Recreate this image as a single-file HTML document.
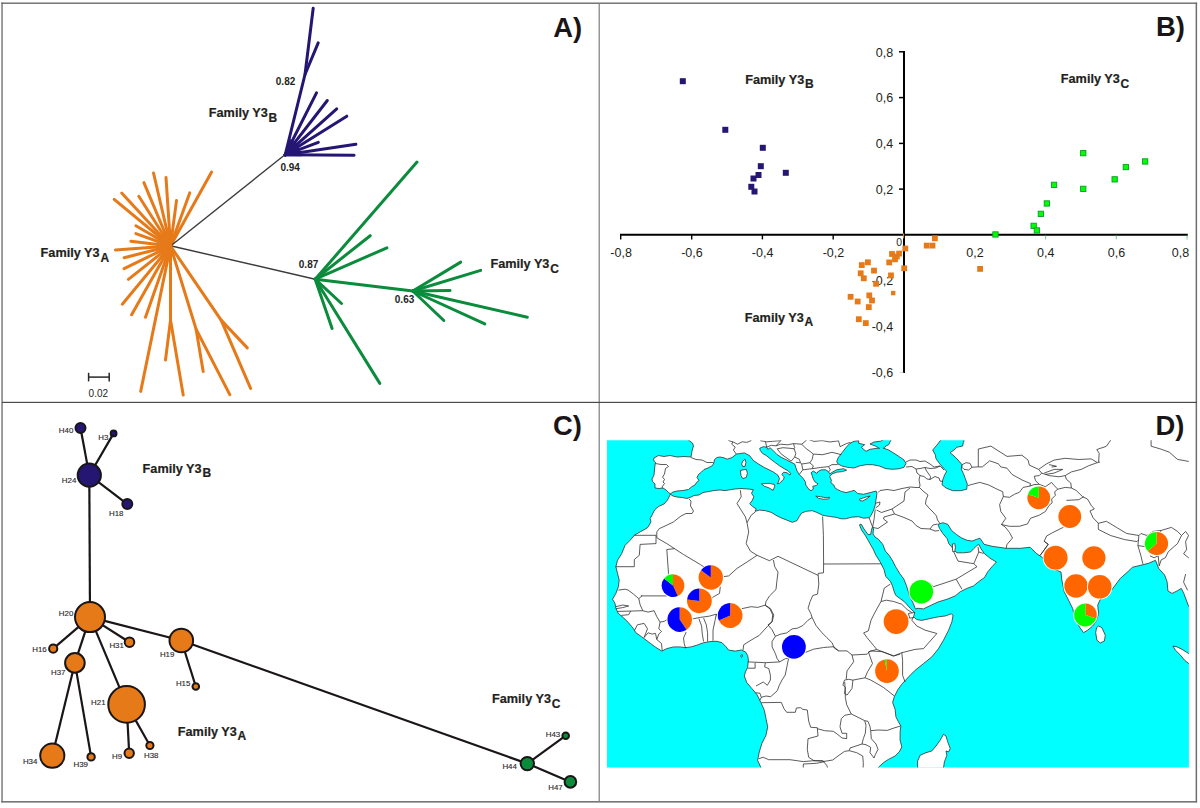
<!DOCTYPE html>
<html><head><meta charset="utf-8"><title>Figure</title>
<style>
html,body{margin:0;padding:0;background:#fff;}
svg{display:block;}
text{font-family:"Liberation Sans",sans-serif;}
</style></head>
<body>
<svg width="1200" height="808" viewBox="0 0 1200 808">
<rect x="0" y="0" width="1200" height="808" fill="#fff"/>
<g shape-rendering="auto">
<rect x="1.2" y="2.6" width="1.7" height="799.8" fill="#8c8c8c"/>
<rect x="1195.6" y="2.6" width="1.5" height="799.8" fill="#6e6e6e"/>
<rect x="1.2" y="2.5" width="1195.9" height="1.4" fill="#6a6a6a"/>
<rect x="1.2" y="801" width="1195.9" height="1.6" fill="#767676"/>
<rect x="598.6" y="3" width="1.2" height="799" fill="#7d7d7d"/>
<rect x="2" y="401.8" width="1195" height="1.2" fill="#4a4a4a"/>
</g>
<text x="553.2" y="36.5" font-size="27.4" font-weight="bold" fill="#1a1516">A)</text>
<text x="1156.0" y="36.0" font-size="27.4" font-weight="bold" fill="#1a1516">B)</text>
<text x="553.1" y="434.5" font-size="27.4" font-weight="bold" fill="#1a1516">C)</text>
<text x="1155.6" y="434.7" font-size="27.4" font-weight="bold" fill="#1a1516">D)</text>
<g stroke="#E67A19" stroke-width="3" stroke-linecap="round" fill="none">
<line x1="170.5" y1="246.0" x2="211.6" y2="172.0"/>
<line x1="170.5" y1="246.0" x2="189.7" y2="192.9"/>
<line x1="170.5" y1="246.0" x2="176.5" y2="200.6"/>
<line x1="170.5" y1="246.0" x2="166.0" y2="177.5"/>
<line x1="170.5" y1="246.0" x2="153.5" y2="173.0"/>
<line x1="170.5" y1="246.0" x2="143.9" y2="182.6"/>
<line x1="170.5" y1="246.0" x2="138.8" y2="196.3"/>
<line x1="170.5" y1="246.0" x2="121.7" y2="193.1"/>
<line x1="170.5" y1="246.0" x2="114.2" y2="199.4"/>
<line x1="170.5" y1="246.0" x2="135.9" y2="225.7"/>
<line x1="170.5" y1="246.0" x2="135.9" y2="233.6"/>
<line x1="170.5" y1="246.0" x2="130.9" y2="241.2"/>
<line x1="170.5" y1="246.0" x2="115.4" y2="249.9"/>
<line x1="170.5" y1="246.0" x2="124.1" y2="257.7"/>
<line x1="170.5" y1="246.0" x2="124.1" y2="268.6"/>
<line x1="170.5" y1="246.0" x2="128.4" y2="279.4"/>
<line x1="170.5" y1="246.0" x2="122.3" y2="304.2"/>
<line x1="170.5" y1="246.0" x2="131.6" y2="314.8"/>
<line x1="170.5" y1="246.0" x2="145.5" y2="317.2"/>
<line x1="170.5" y1="246.0" x2="140.7" y2="391.4"/>
<polyline points="170.5,246.0 170.5,320.1 183.2,395.0"/>
<line x1="170.5" y1="320.1" x2="165.5" y2="360.0"/>
<polyline points="170.5,246.0 196.1,329.3 229.8,394.6"/>
<line x1="196.1" y1="329.3" x2="203.2" y2="371.5"/>
<polyline points="170.5,246.0 221.1,320.1 250.6,388.4"/>
<line x1="221.1" y1="320.1" x2="247.3" y2="347.9"/>
</g>
<g stroke="#3c3a3b" stroke-width="1.4" fill="none">
<line x1="170.9" y1="245.7" x2="284.3" y2="155.3"/>
<line x1="171.5" y1="246.0" x2="315.2" y2="279.2"/>
</g>
<circle cx="170.5" cy="246.0" r="2.2" fill="#E67A19"/>
<g stroke="#261673" stroke-width="3" stroke-linecap="round" stroke-linejoin="round" fill="none">
<polyline points="285.2,154.8 305.0,74.5 313.2,8.2"/>
<line x1="305.0" y1="74.5" x2="318.2" y2="42.8"/>
<line x1="285.2" y1="154.8" x2="316.5" y2="92.9"/>
<line x1="285.2" y1="154.8" x2="327.3" y2="100.5"/>
<line x1="285.2" y1="154.8" x2="336.7" y2="108.8"/>
<line x1="285.2" y1="154.8" x2="346.8" y2="116.2"/>
<line x1="285.2" y1="154.8" x2="318.3" y2="142.3"/>
<line x1="285.2" y1="154.8" x2="355.9" y2="144.3"/>
<line x1="285.2" y1="154.8" x2="354.1" y2="155.2"/>
</g>
<polygon points="284.0,156.3 290.0,139.0 298.0,144.0 302.0,156.3" fill="#261673"/>
<g stroke="#0A8C3C" stroke-width="3" stroke-linecap="round" fill="none">
<line x1="315.2" y1="279.2" x2="417.0" y2="162.1"/>
<line x1="315.2" y1="279.2" x2="370.2" y2="235.7"/>
<line x1="315.2" y1="279.2" x2="386.9" y2="247.8"/>
<line x1="315.2" y1="279.2" x2="341.5" y2="303.5"/>
<line x1="315.2" y1="279.2" x2="332.1" y2="328.5"/>
<line x1="315.2" y1="279.2" x2="379.8" y2="383.4"/>
<line x1="315.2" y1="279.2" x2="412.8" y2="291.0"/>
<line x1="412.8" y1="291.0" x2="460.7" y2="262.1"/>
<line x1="412.8" y1="291.0" x2="480.7" y2="270.4"/>
<line x1="412.8" y1="291.0" x2="450.0" y2="290.6"/>
<line x1="412.8" y1="291.0" x2="527.3" y2="317.2"/>
<line x1="412.8" y1="291.0" x2="484.8" y2="323.9"/>
<line x1="412.8" y1="291.0" x2="443.8" y2="320.5"/>
</g>
<text x="275.8" y="84.6" font-size="10" font-weight="bold" fill="#231F20">0.82</text>
<text x="280.4" y="171.2" font-size="10" font-weight="bold" fill="#231F20">0.94</text>
<text x="298.8" y="268.4" font-size="10" font-weight="bold" fill="#231F20">0.87</text>
<text x="394.8" y="302.6" font-size="10" font-weight="bold" fill="#231F20">0.63</text>
<text x="208.8" y="117.2" font-size="12.7" font-weight="bold" fill="#231F20" stroke="#231F20" stroke-width="0.2">Family Y3<tspan dx="0.8" dy="4.5" font-size="12.0">B</tspan></text>
<text x="40.6" y="257.2" font-size="12.7" font-weight="bold" fill="#231F20" stroke="#231F20" stroke-width="0.2">Family Y3<tspan dx="0.8" dy="4.5" font-size="12.0">A</tspan></text>
<text x="490.4" y="268.4" font-size="12.7" font-weight="bold" fill="#231F20" stroke="#231F20" stroke-width="0.2">Family Y3<tspan dx="0.8" dy="4.5" font-size="12.0">C</tspan></text>
<g stroke="#2a2627" stroke-width="1.5" fill="none">
<line x1="88.6" y1="377.1" x2="109.2" y2="377.1"/>
<line x1="88.6" y1="372.8" x2="88.6" y2="381.4"/>
<line x1="109.2" y1="372.8" x2="109.2" y2="381.4"/>
</g>
<text x="88.6" y="396.6" font-size="10" fill="#231F20">0.02</text>
<g font-size="12.5" fill="#231F20">
<text x="621.1" y="257.3" text-anchor="middle">-0,8</text>
<text x="691.9" y="257.3" text-anchor="middle">-0,6</text>
<text x="762.6" y="257.3" text-anchor="middle">-0,4</text>
<text x="833.4" y="257.3" text-anchor="middle">-0,2</text>
<text x="975.0" y="257.3" text-anchor="middle">0,2</text>
<text x="1045.8" y="257.3" text-anchor="middle">0,4</text>
<text x="1116.5" y="257.3" text-anchor="middle">0,6</text>
<text x="1189.2" y="257.3" text-anchor="end">0,8</text>
<text x="902.0" y="245.8" text-anchor="end" font-size="10.4">0</text>
<text x="893.2" y="56.6" text-anchor="end">0,8</text>
<text x="893.2" y="102.3" text-anchor="end">0,6</text>
<text x="893.2" y="148.1" text-anchor="end">0,4</text>
<text x="893.2" y="193.8" text-anchor="end">0,2</text>
<text x="893.2" y="285.2" text-anchor="end">-0,2</text>
<text x="893.2" y="330.9" text-anchor="end">-0,4</text>
<text x="893.2" y="376.7" text-anchor="end">-0,6</text>
</g>
<g stroke="#000" fill="none">
<line x1="620.0" y1="234.8" x2="1187.8" y2="234.8" stroke-width="2"/>
<line x1="904.0" y1="51.0" x2="904.0" y2="372.9" stroke-width="2"/>
<line x1="620.7" y1="234.8" x2="620.7" y2="239.4" stroke-width="1.4"/>
<line x1="691.7" y1="234.8" x2="691.7" y2="239.4" stroke-width="1.4"/>
<line x1="762.4" y1="234.8" x2="762.4" y2="239.4" stroke-width="1.4"/>
<line x1="833.2" y1="234.8" x2="833.2" y2="239.4" stroke-width="1.4"/>
<line x1="1045.6" y1="234.8" x2="1045.6" y2="239.4" stroke-width="0.6" stroke="#19a84a"/>
<line x1="1116.3" y1="234.8" x2="1116.3" y2="239.4" stroke-width="0.6" stroke="#19a84a"/>
<line x1="1187.0" y1="234.8" x2="1187.0" y2="239.4" stroke-width="0.6" stroke="#19a84a"/>
<line x1="899.0" y1="51.8" x2="904.0" y2="51.8" stroke-width="1.5"/>
<line x1="899.0" y1="97.6" x2="904.0" y2="97.6" stroke-width="1.5"/>
<line x1="899.0" y1="143.4" x2="904.0" y2="143.4" stroke-width="1.5"/>
<line x1="899.0" y1="189.1" x2="904.0" y2="189.1" stroke-width="1.5"/>
<line x1="900" y1="372.4" x2="904" y2="372.4" stroke-width="0.5" stroke="#999"/>
</g>
<rect x="679.8" y="78.2" width="6.0" height="6.0" fill="#261673"/>
<rect x="722.3" y="126.8" width="6.0" height="6.0" fill="#261673"/>
<rect x="759.8" y="144.8" width="6.0" height="6.0" fill="#261673"/>
<rect x="757.8" y="163.2" width="6.0" height="6.0" fill="#261673"/>
<rect x="755.5" y="172.0" width="6.0" height="6.0" fill="#261673"/>
<rect x="750.5" y="175.5" width="6.0" height="6.0" fill="#261673"/>
<rect x="748.3" y="183.8" width="6.0" height="6.0" fill="#261673"/>
<rect x="751.5" y="188.5" width="6.0" height="6.0" fill="#261673"/>
<rect x="782.8" y="169.8" width="6.0" height="6.0" fill="#261673"/>
<rect x="932.0" y="235.4" width="5.8" height="5.8" fill="#E67A19"/>
<rect x="923.8" y="242.7" width="5.8" height="5.8" fill="#E67A19"/>
<rect x="929.6" y="242.7" width="5.8" height="5.8" fill="#E67A19"/>
<rect x="902.4" y="245.6" width="5.8" height="5.8" fill="#E67A19"/>
<rect x="896.2" y="250.7" width="5.8" height="5.8" fill="#E67A19"/>
<rect x="889.1" y="251.1" width="5.8" height="5.8" fill="#E67A19"/>
<rect x="893.9" y="253.6" width="5.8" height="5.8" fill="#E67A19"/>
<rect x="892.1" y="256.4" width="5.8" height="5.8" fill="#E67A19"/>
<rect x="886.3" y="259.5" width="5.8" height="5.8" fill="#E67A19"/>
<rect x="865.0" y="259.4" width="5.8" height="5.8" fill="#E67A19"/>
<rect x="858.9" y="262.2" width="5.8" height="5.8" fill="#E67A19"/>
<rect x="901.3" y="265.4" width="5.8" height="5.8" fill="#E67A19"/>
<rect x="871.1" y="267.7" width="5.8" height="5.8" fill="#E67A19"/>
<rect x="857.8" y="270.4" width="5.8" height="5.8" fill="#E67A19"/>
<rect x="888.1" y="272.5" width="5.8" height="5.8" fill="#E67A19"/>
<rect x="860.9" y="275.4" width="5.8" height="5.8" fill="#E67A19"/>
<rect x="873.2" y="280.9" width="5.8" height="5.8" fill="#E67A19"/>
<rect x="847.7" y="293.9" width="5.8" height="5.8" fill="#E67A19"/>
<rect x="866.4" y="292.5" width="5.8" height="5.8" fill="#E67A19"/>
<rect x="854.8" y="298.6" width="5.8" height="5.8" fill="#E67A19"/>
<rect x="869.1" y="297.6" width="5.8" height="5.8" fill="#E67A19"/>
<rect x="865.9" y="304.2" width="5.8" height="5.8" fill="#E67A19"/>
<rect x="855.9" y="316.3" width="5.8" height="5.8" fill="#E67A19"/>
<rect x="862.9" y="320.2" width="5.8" height="5.8" fill="#E67A19"/>
<rect x="977.2" y="266.0" width="5.8" height="5.8" fill="#E67A19"/>
<rect x="891.0" y="290.9" width="4.4" height="4.4" fill="#E67A19"/>
<rect x="903.0" y="233.4" width="1.1" height="5.0" fill="#E67A19"/>
<rect x="1080.6" y="150.5" width="5.3" height="5.3" fill="#00FF00" stroke="#0a9a2a" stroke-width="0.9"/>
<rect x="1142.5" y="158.8" width="5.3" height="5.3" fill="#00FF00" stroke="#0a9a2a" stroke-width="0.9"/>
<rect x="1123.2" y="164.4" width="5.3" height="5.3" fill="#00FF00" stroke="#0a9a2a" stroke-width="0.9"/>
<rect x="1112.0" y="176.7" width="5.3" height="5.3" fill="#00FF00" stroke="#0a9a2a" stroke-width="0.9"/>
<rect x="1080.6" y="186.2" width="5.3" height="5.3" fill="#00FF00" stroke="#0a9a2a" stroke-width="0.9"/>
<rect x="1051.4" y="182.2" width="5.3" height="5.3" fill="#00FF00" stroke="#0a9a2a" stroke-width="0.9"/>
<rect x="1044.2" y="200.8" width="5.3" height="5.3" fill="#00FF00" stroke="#0a9a2a" stroke-width="0.9"/>
<rect x="1038.2" y="211.2" width="5.3" height="5.3" fill="#00FF00" stroke="#0a9a2a" stroke-width="0.9"/>
<rect x="1031.0" y="223.2" width="5.3" height="5.3" fill="#00FF00" stroke="#0a9a2a" stroke-width="0.9"/>
<rect x="1034.2" y="227.8" width="5.3" height="5.3" fill="#00FF00" stroke="#0a9a2a" stroke-width="0.9"/>
<rect x="992.8" y="231.8" width="5.3" height="5.3" fill="#00FF00" stroke="#0a9a2a" stroke-width="0.9"/>
<text x="745.2" y="83.8" font-size="12.7" font-weight="bold" fill="#231F20" stroke="#231F20" stroke-width="0.2">Family Y3<tspan dx="0.8" dy="4.5" font-size="12.0">B</tspan></text>
<text x="1060.8" y="83.0" font-size="12.7" font-weight="bold" fill="#231F20" stroke="#231F20" stroke-width="0.2">Family Y3<tspan dx="0.8" dy="4.5" font-size="12.0">C</tspan></text>
<text x="744.8" y="321.6" font-size="12.7" font-weight="bold" fill="#231F20" stroke="#231F20" stroke-width="0.2">Family Y3<tspan dx="0.8" dy="4.5" font-size="12.0">A</tspan></text>
<g stroke="#1a1516" stroke-width="2.2" fill="none">
<line x1="89.3" y1="475.2" x2="80.5" y2="427.9"/>
<line x1="89.3" y1="475.2" x2="113.6" y2="433.4"/>
<line x1="89.3" y1="475.2" x2="127.3" y2="504.1"/>
<line x1="89.3" y1="475.2" x2="90.0" y2="617.1"/>
<line x1="90.0" y1="617.1" x2="53.2" y2="648.7"/>
<line x1="90.0" y1="617.1" x2="74.9" y2="662.9"/>
<line x1="90.0" y1="617.1" x2="129.5" y2="642.2"/>
<line x1="90.0" y1="617.1" x2="126.6" y2="704.4"/>
<line x1="90.0" y1="617.1" x2="181.3" y2="640.5"/>
<line x1="181.3" y1="640.5" x2="195.8" y2="686.5"/>
<line x1="181.3" y1="640.5" x2="527.3" y2="763.6"/>
<line x1="74.9" y1="662.9" x2="52.3" y2="755.7"/>
<line x1="74.9" y1="662.9" x2="91.1" y2="756.9"/>
<line x1="126.6" y1="704.4" x2="129.2" y2="753.2"/>
<line x1="126.6" y1="704.4" x2="149.9" y2="745.5"/>
<line x1="527.3" y1="763.6" x2="565.7" y2="735.7"/>
<line x1="527.3" y1="763.6" x2="570.4" y2="781.9"/>
</g>
<g stroke="#1a1516" stroke-width="2.0">
<circle cx="80.5" cy="427.9" r="5.0" fill="#261673"/>
<circle cx="113.6" cy="433.4" r="2.9" fill="#261673"/>
<circle cx="89.3" cy="475.2" r="11.6" fill="#261673"/>
<circle cx="127.3" cy="504.1" r="5.0" fill="#261673"/>
<circle cx="90.0" cy="617.1" r="15.0" fill="#E67A19"/>
<circle cx="53.2" cy="648.7" r="4.1" fill="#E67A19"/>
<circle cx="129.5" cy="642.2" r="4.8" fill="#E67A19"/>
<circle cx="74.9" cy="662.9" r="9.8" fill="#E67A19"/>
<circle cx="181.3" cy="640.5" r="11.8" fill="#E67A19"/>
<circle cx="195.8" cy="686.5" r="3.3" fill="#E67A19"/>
<circle cx="126.6" cy="704.4" r="18.3" fill="#E67A19"/>
<circle cx="52.3" cy="755.7" r="12.1" fill="#E67A19"/>
<circle cx="91.1" cy="756.9" r="3.7" fill="#E67A19"/>
<circle cx="129.2" cy="753.2" r="4.7" fill="#E67A19"/>
<circle cx="149.9" cy="745.5" r="3.6" fill="#E67A19"/>
<circle cx="527.3" cy="763.6" r="6.7" fill="#0A8C3C"/>
<circle cx="565.7" cy="735.7" r="3.3" fill="#0A8C3C"/>
<circle cx="570.4" cy="781.9" r="5.8" fill="#0A8C3C"/>
</g>
<g font-size="7.9" fill="#2a2627" stroke="#2a2627" stroke-width="0.12">
<text x="58.8" y="433.4">H40</text>
<text x="98.2" y="439.7">H3</text>
<text x="61.8" y="482.7">H24</text>
<text x="109.0" y="515.6">H18</text>
<text x="58.8" y="615.9">H20</text>
<text x="32.2" y="651.5">H16</text>
<text x="109.4" y="648.2">H31</text>
<text x="51.0" y="674.7">H37</text>
<text x="159.9" y="657.4">H19</text>
<text x="175.9" y="686.1">H15</text>
<text x="91.1" y="704.9">H21</text>
<text x="22.9" y="763.9">H34</text>
<text x="73.5" y="766.9">H39</text>
<text x="112.0" y="758.6">H9</text>
<text x="144.0" y="757.7">H38</text>
<text x="545.7" y="736.8">H43</text>
<text x="502.4" y="769.4">H44</text>
<text x="548.2" y="789.8">H47</text>
</g>
<text x="142.6" y="472.8" font-size="12.7" font-weight="bold" fill="#231F20" stroke="#231F20" stroke-width="0.2">Family Y3<tspan dx="0.8" dy="4.5" font-size="12.0">B</tspan></text>
<text x="177.8" y="735.8" font-size="12.7" font-weight="bold" fill="#231F20" stroke="#231F20" stroke-width="0.2">Family Y3<tspan dx="0.8" dy="4.5" font-size="12.0">A</tspan></text>
<text x="492.0" y="703.4" font-size="12.7" font-weight="bold" fill="#231F20" stroke="#231F20" stroke-width="0.2">Family Y3<tspan dx="0.8" dy="4.5" font-size="12.0">C</tspan></text>
<defs><clipPath id="mc"><rect x="607.0" y="440.3" width="581.9" height="327.1"/></clipPath></defs>
<g clip-path="url(#mc)">
<g fill="#00FFFF" stroke="#262626" stroke-width="0.75" stroke-linejoin="round">
<polygon points="598.0,430.0 688.5,430.0 688.5,440.2 692.5,443.0 693.5,446.0 692.0,451.0 691.0,457.0 684.0,456.5 677.0,457.0 670.0,455.5 664.0,456.5 658.5,455.5 654.0,458.0 653.5,460.0 655.5,462.5 655.0,465.0 654.5,470.0 654.0,475.0 652.0,479.0 652.5,481.5 655.0,484.0 655.0,488.0 659.0,488.5 663.0,488.0 666.0,490.0 668.5,492.5 670.5,493.8 669.5,496.0 667.5,500.0 664.0,504.0 658.5,506.5 655.0,509.5 653.0,513.0 651.6,516.0 650.1,518.5 651.0,521.9 647.6,527.7 640.1,531.9 634.3,535.3 630.1,540.3 625.1,545.3 621.7,553.6 617.5,560.3 615.9,566.7 617.5,573.4 619.2,580.1 618.4,586.7 615.9,593.4 612.5,599.3 615.0,603.4 615.9,608.5 618.4,613.5 623.4,617.6 628.4,622.7 633.4,628.5 635.9,632.7 641.8,636.9 648.5,641.9 655.1,646.9 661.8,651.1 666.8,648.6 673.5,646.9 680.2,646.9 685.2,647.7 691.1,646.9 696.9,645.2 703.6,642.7 710.3,641.5 717.0,641.3 722.0,642.7 725.6,646.3 728.6,650.1 735.3,651.1 741.2,650.0 745.4,651.8 747.7,655.5 748.4,660.0 747.6,667.6 745.4,672.0 744.3,675.9 746.8,682.6 751.8,688.5 756.8,694.3 761.0,702.7 764.3,710.2 766.0,718.5 767.7,726.9 766.0,735.2 761.8,743.6 759.3,751.9 757.6,760.3 761.0,767.8 761.0,780.0 598.0,780.0"/>
<polygon points="670.5,493.8 673.0,492.0 677.0,491.0 683.0,490.5 688.5,489.5 692.0,486.5 695.0,485.0 696.5,482.5 699.0,480.5 697.0,477.5 698.5,474.5 701.5,472.0 704.0,469.5 708.0,468.0 712.5,465.5 714.0,462.5 714.5,459.5 717.0,457.5 720.0,457.0 724.0,457.8 727.0,459.2 732.0,457.6 736.3,454.1 744.5,452.9 749.8,455.8 753.3,460.5 758.5,464.0 764.3,467.5 769.0,469.8 773.7,472.2 777.8,475.1 779.5,478.6 778.3,482.1 777.2,483.8 779.5,483.3 783.6,479.2 784.2,476.8 781.8,474.5 783.6,472.2 787.1,472.8 790.0,475.1 790.6,473.3 788.3,471.0 784.2,468.7 779.5,465.8 774.8,462.3 770.2,458.8 766.7,455.8 762.6,453.5 760.3,450.6 759.7,448.3 763.2,446.7 766.7,447.1 767.8,449.4 770.2,447.7 773.7,451.2 777.2,454.7 781.8,457.6 786.5,459.9 791.2,462.3 794.7,464.0 795.8,467.5 797.0,471.0 799.3,474.5 802.8,478.0 805.2,481.5 805.8,485.0 808.1,488.5 811.0,490.8 813.3,489.1 812.8,486.2 816.3,485.6 818.0,483.8 815.1,482.1 813.3,479.2 812.2,475.7 811.0,472.8 813.3,471.0 816.8,473.3 818.6,471.0 821.5,469.8 825.6,469.8 828.5,471.6 829.7,473.9 834.3,471.0 836.7,469.8 843.7,468.7 846.6,470.2 842.5,471.6 836.7,472.2 832.0,473.9 829.7,476.3 831.4,480.3 830.8,482.7 833.8,485.0 834.9,487.9 837.8,489.7 841.3,491.4 846.0,492.6 850.7,491.4 854.2,490.3 857.7,493.5 863.5,494.3 870.2,492.6 876.1,491.0 876.9,493.5 876.1,499.3 875.2,505.2 873.6,510.2 871.1,515.2 869.4,517.7 863.5,518.2 858.5,516.7 851.5,517.2 845.5,518.8 841.0,518.8 836.0,517.3 829.7,516.5 822.7,515.3 816.8,512.4 812.2,510.7 806.3,511.3 801.7,513.0 799.3,516.5 797.0,520.6 792.3,522.3 786.5,520.0 780.7,517.7 776.0,515.3 771.3,512.4 765.5,510.7 759.7,510.1 755.0,511.3 756.2,508.9 752.7,506.6 749.8,503.7 752.1,500.8 753.8,496.7 751.5,493.2 753.3,489.7 749.2,489.1 741.0,488.5 734.0,489.1 727.0,490.3 724.0,490.5 720.0,490.0 714.0,490.5 709.0,491.5 703.0,492.5 699.0,495.0 694.0,495.5 691.0,497.0 687.0,498.5 682.0,497.5 677.0,497.0 673.0,496.0 670.8,494.6"/>
<polygon points="836.7,461.3 838.0,458.0 842.0,452.7 846.7,446.7 850.0,443.3 854.0,441.3 858.7,440.7 858.7,443.3 864.7,444.7 861.3,447.3 866.0,451.3 870.0,449.3 874.0,448.7 879.3,448.0 883.3,448.0 888.7,450.0 894.0,453.3 899.3,456.7 904.0,460.0 906.0,463.3 904.0,467.3 899.3,468.7 892.7,469.3 886.0,468.7 879.3,466.0 872.7,464.7 866.0,464.7 859.3,466.0 854.0,468.0 847.3,467.3 842.0,466.0 838.0,464.0"/>
<polygon points="870.0,444.0 874.0,442.0 880.7,441.1 885.0,439.0 891.0,439.0 890.7,440.6 888.7,444.7 886.0,446.0 883.3,448.3 879.3,448.3 875.3,446.0"/>
<polygon points="940.7,436.0 940.7,440.3 936.7,445.3 932.7,450.0 935.3,454.7 936.0,458.7 939.3,463.3 943.3,468.0 946.7,471.3 944.7,474.7 942.7,480.0 942.0,484.7 946.0,488.0 952.7,490.7 960.7,490.7 966.7,489.3 967.3,484.0 965.3,478.7 963.3,473.3 961.3,469.3 962.0,464.7 958.0,460.0 954.0,456.0 950.0,452.7 954.0,450.0 956.7,447.3 962.7,446.0 963.3,442.7 964.0,440.3 964.0,436.0"/>
<polygon points="859.5,525.0 861.5,530.0 865.0,535.0 868.0,540.0 869.6,543.0 873.1,549.0 875.9,555.2 880.6,562.7 884.0,569.5 885.7,576.3 890.5,581.5 892.5,586.0 894.0,591.0 895.7,595.3 900.0,598.5 904.6,601.9 910.5,608.6 914.8,612.6 913.5,616.8 916.8,619.6 921.8,620.4 930.2,618.5 938.5,616.8 945.2,616.0 951.1,613.8 953.1,615.1 951.9,621.8 948.6,630.2 943.5,640.2 938.5,648.6 931.8,656.9 923.5,663.6 915.1,670.3 908.5,677.0 901.8,684.2 897.6,690.1 894.3,696.7 892.6,702.6 895.1,709.3 895.9,716.8 898.4,721.8 900.9,726.0 900.1,731.8 900.1,740.2 901.8,746.9 899.3,751.9 895.1,756.0 888.4,759.4 883.4,762.7 878.4,767.4 878.0,780.0 1196.0,780.0 1196.0,607.0 1188.8,606.8 1186.3,600.1 1183.8,593.4 1181.3,588.4 1177.1,590.9 1172.1,593.4 1167.9,590.9 1167.1,581.7 1164.6,575.0 1158.7,568.4 1155.5,560.3 1148.5,563.3 1140.5,565.3 1132.4,567.3 1127.0,572.5 1120.3,578.4 1115.3,585.1 1110.3,591.7 1100.3,599.3 1097.7,605.1 1098.6,613.5 1096.1,621.0 1092.7,626.0 1087.7,630.2 1083.5,632.7 1079.4,626.8 1075.2,618.5 1072.7,608.5 1068.5,600.1 1064.3,591.7 1061.8,580.0 1061.0,572.0 1054.2,569.3 1046.2,563.3 1042.2,557.3 1036.2,553.3 1030.2,547.3 1020.2,548.3 1006.1,548.3 992.1,546.3 984.1,544.3 980.0,538.3 976.3,539.4 972.1,541.1 967.1,540.3 961.3,537.8 956.3,534.4 951.3,530.2 947.9,524.4 942.9,522.7 937.9,524.4 939.6,528.6 942.9,533.6 947.1,538.6 948.8,543.6 952.1,547.5 953.8,550.3 957.1,552.8 963.8,552.8 970.5,552.0 973.8,548.6 977.2,545.3 979.0,544.6 980.6,548.0 984.1,553.3 990.1,558.3 996.4,562.0 992.0,566.7 987.8,571.7 984.5,577.5 978.6,581.7 973.6,585.9 966.9,588.4 960.3,591.7 955.2,595.9 946.9,599.3 938.5,601.8 931.7,604.9 923.5,608.9 918.1,608.3 915.4,608.9 913.3,603.5 909.9,596.7 906.5,585.8 903.8,579.0 899.7,573.5 895.6,566.7 892.9,561.3 889.5,555.8 885.4,551.1 882.7,544.3 878.6,539.4 875.0,537.0 873.0,534.0 873.5,529.0 872.6,526.8 871.7,529.0 870.6,534.6 868.0,534.6 864.0,529.0 861.5,524.5 860.0,524.2"/>
</g>
<polygon points="879.8,447.2 883,447.2 883,449 879.8,449" fill="#00FFFF"/>
<g fill="#fff" stroke="#262626" stroke-width="0.75" stroke-linejoin="round">
<polygon points="742.8,461.1 745.1,459.3 745.9,462.3 745.1,466.3 742.8,466.6 741.6,464.0"/>
<polygon points="740.4,470.4 746.3,469.3 747.4,473.3 746.3,477.4 742.8,478.6 741.0,475.7"/>
<polygon points="761.4,483.8 769.0,483.3 774.3,484.4 774.8,486.2 773.1,490.3 769.0,487.9 764.3,486.2"/>
<polygon points="815.7,496.1 820.3,496.7 825.6,497.6 829.7,497.3 828.5,499.0 823.3,499.2 818.6,498.4"/>
<polygon points="859.4,499.3 866.0,497.0 870.2,496.0 867.0,498.6 862.7,501.0 860.0,500.6"/>
<polygon points="1098.6,626.0 1101.9,627.7 1105.3,635.2 1104.4,641.0 1100.3,643.0 1096.9,640.2 1095.7,632.7 1096.6,627.7"/>
<polygon points="917.6,770.0 917.6,761.1 920.2,755.2 926.0,752.7 931.8,751.0 936.0,746.0 940.2,740.2 943.5,734.3 946.0,736.0 947.7,741.8 950.2,748.5 948.6,751.9 946.0,751.0 946.9,755.2 944.4,761.9 943.2,770.0"/>
<polygon points="1172.9,646.0 1177.1,646.9 1182.1,649.4 1188.8,653.6 1196.0,656.0 1196.0,668.0 1188.8,663.6 1184.6,660.3 1180.5,655.2 1175.4,650.2"/>
<polygon points="952.4,544.0 954.8,543.6 955.4,547.0 954.8,551.5 952.6,551.5"/>
<polygon points="740.8,655.2 742.2,654.6 742.6,656.4 741.2,657.4"/>
<polygon points="848.7,679.3 852.9,680.1 852.0,688.5 847.0,695.1 844.5,693.5 845.4,687.6 842.9,685.1 844.5,680.1"/>
<polygon points="962.0,464.7 966.0,462.7 970.0,463.3 972.0,467.3 968.7,470.0 964.0,469.3 962.0,467.3"/>
</g>
<g fill="none" stroke="#262626" stroke-width="0.75" stroke-linejoin="round">
<polyline points="655.5,463.5 661.0,464.5 666.5,464.5 668.5,466.5 665.5,468.5 664.5,474.0 662.5,477.0 664.5,479.5 663.0,482.0 664.5,483.5 662.0,487.0 662.5,488.0"/>
<polyline points="691.0,457.5 696.0,459.5 702.0,460.0 707.0,462.5 713.5,462.5"/>
<polyline points="736.3,454.1 733.4,450.0 735.2,447.1 731.7,444.2 732.8,441.8 728.8,440.7 728.0,439.0"/>
<polyline points="732.8,441.8 737.5,444.2 742.2,441.8 746.8,442.4 750.9,440.7 752.0,439.0"/>
<polyline points="760.3,440.7 766.7,441.8 772.5,441.3 780.7,440.7"/>
<polyline points="765.5,441.8 766.7,447.1"/>
<polyline points="766.7,447.1 771.3,445.3 776.0,445.9 780.7,440.7 782.0,439.0"/>
<polyline points="776.0,445.9 780.7,444.2 787.7,444.8 793.5,443.6 794.7,447.7 794.1,448.8"/>
<polyline points="777.2,448.8 783.0,447.7 790.0,448.3 794.1,448.8"/>
<polyline points="777.2,448.8 780.7,453.5 785.3,457.0 791.2,461.1"/>
<polyline points="794.1,448.8 795.8,453.5 794.7,457.0 791.2,461.1"/>
<polyline points="793.5,443.6 801.7,444.2 806.3,440.4 807.0,439.0"/>
<polyline points="801.7,444.2 806.3,448.8 809.8,451.2 813.3,454.1"/>
<polyline points="813.3,454.1 822.7,454.7 832.0,452.3 841.3,454.7"/>
<polyline points="794.7,457.0 799.3,459.3 800.5,462.8"/>
<polyline points="813.3,454.1 812.2,459.3 809.8,462.8 801.7,464.0"/>
<polyline points="795.8,462.3 800.5,462.8 801.7,464.0 802.8,469.8 799.3,474.5"/>
<polyline points="809.8,462.8 813.3,465.8 812.2,468.7 802.8,469.8"/>
<polyline points="812.2,468.7 820.3,467.5 828.5,466.6"/>
<polyline points="828.5,466.6 832.0,464.6 837.8,464.6"/>
<polyline points="828.5,466.6 830.3,469.8 829.1,471.6"/>
<polyline points="838.5,440.8 840.1,446.7 846.8,443.4 850.2,442.5"/>
<polyline points="807.0,439.0 814.0,441.4 822.0,440.6 830.0,442.0 838.5,440.8"/>
<polyline points="689.0,499.0 691.0,501.0 690.5,506.0 693.5,511.0 692.0,513.5 686.0,513.5 681.0,516.0 673.5,521.9 666.8,525.2 659.3,528.6 656.8,531.9 656.8,537.8"/>
<polyline points="634.3,535.3 656.0,535.3 656.0,543.6 640.1,544.4 639.3,555.3 634.3,559.5 634.3,566.7 615.6,566.7"/>
<polyline points="656.8,537.8 666.8,543.6 683.5,554.5 700.3,564.5 703.6,566.7"/>
<polyline points="674.4,548.7 666.8,549.5 668.5,573.4 666.8,595.9 640.9,595.9"/>
<polyline points="740.3,490.1 741.2,496.8 737.0,503.5 741.2,510.2 745.4,516.9 747.0,522.7"/>
<polyline points="755.4,511.9 751.2,515.2 747.0,522.7"/>
<polyline points="747.0,522.7 748.7,531.9 746.2,543.6 750.4,551.1 757.1,555.3"/>
<polyline points="757.1,555.3 747.0,562.0 737.0,568.4 728.7,575.9 723.6,576.7"/>
<polyline points="703.6,566.7 712.0,572.0 717.5,578.0"/>
<polyline points="757.1,555.3 769.4,560.7 778.0,556.3 818.2,575.4"/>
<polyline points="773.4,560.0 774.7,566.7 778.0,572.1 776.7,582.8 776.0,589.5 769.4,596.1 766.0,601.5 765.3,605.5"/>
<polyline points="822.6,516.5 823.4,535.3 823.6,564.0 823.5,572.8 818.2,573.4 818.2,575.4"/>
<polyline points="823.6,564.0 881.0,563.8"/>
<polyline points="818.2,575.4 818.8,584.1 817.5,594.1 812.8,595.5 810.1,601.5 808.1,608.2 810.8,613.5 812.1,617.5"/>
<polyline points="812.1,617.5 808.1,620.2 802.8,625.6 797.4,628.2 792.1,628.9 786.7,632.9 780.1,634.3 775.4,636.3"/>
<polyline points="765.3,605.5 770.0,608.9 772.7,614.9 772.0,621.6 768.0,624.9 772.0,629.6 775.4,636.3"/>
<polyline points="812.1,617.5 816.1,625.6 821.5,632.2 826.8,637.6 832.2,642.9 834.2,648.0 838.7,650.9"/>
<polyline points="775.4,636.3 772.0,641.6 772.1,646.9 775.4,653.6 777.1,658.6 779.6,661.9"/>
<polyline points="618.4,590.1 625.1,589.2 628.0,590.0 633.4,594.0 638.8,598.7 642.1,595.6"/>
<polyline points="616.0,606.7 622.7,605.0 628.7,606.0 622.7,607.6 616.0,608.7"/>
<polyline points="638.8,598.7 640.1,604.7 642.8,610.7 648.1,612.1 654.1,610.7"/>
<polyline points="617.4,611.4 630.7,611.1 642.8,610.7"/>
<polyline points="621.4,615.4 628.7,614.7 630.7,611.1"/>
<polyline points="654.1,610.7 656.8,616.7 660.1,622.1 664.2,621.4 668.0,619.0"/>
<polyline points="660.1,622.1 658.8,628.8 661.5,631.4 658.8,634.1 656.8,639.5"/>
<polyline points="634.7,630.1 637.4,624.8 644.1,623.4 647.5,628.8 644.1,637.5"/>
<polyline points="644.1,637.5 648.1,632.8 652.1,634.1 655.5,633.4 656.8,639.5 661.5,643.5 662.2,650.8"/>
<polyline points="686.2,632.1 683.5,638.1 684.2,643.5 685.6,648.2"/>
<polyline points="690.0,619.6 693.6,618.7 700.3,617.4 709.6,616.1 716.3,614.1 718.3,618.7"/>
<polyline points="698.9,618.7 701.6,626.1 702.3,634.1 703.6,641.5"/>
<polyline points="703.6,618.1 706.3,624.8 707.6,632.8 707.6,641.5"/>
<polyline points="716.3,614.1 715.0,620.7 713.0,630.1 713.0,640.8"/>
<polyline points="720.3,586.7 719.5,593.4 713.6,596.8 710.0,600.0"/>
<polyline points="741.7,608.7 751.1,606.7 757.7,607.4 765.4,605.1 770.4,608.5"/>
<polyline points="770.4,608.5 773.8,615.1 772.1,621.8 767.1,626.8 759.1,635.5 751.1,640.1 743.7,644.8 743.0,650.2"/>
<polyline points="747.9,661.9 765.4,662.7 779.6,661.9 785.5,658.6 790.5,657.7"/>
<polyline points="747.7,668.2 755.1,668.2 755.1,662.9"/>
<polyline points="765.4,662.7 764.6,666.9 768.8,668.6 770.4,675.3 770.4,680.0"/>
<polyline points="788.6,658.4 786.9,666.7 785.2,675.1 782.0,680.0"/>
<polyline points="805.3,652.5 813.6,649.2 823.6,647.5 833.7,646.7 838.7,650.9 847.0,650.9 852.0,655.0 867.1,654.2 870.4,650.9 882.1,651.7 893.8,655.9 900.0,654.2"/>
<polyline points="761.3,702.7 781.3,702.4 784.0,708.7 786.7,712.3 795.3,712.3 796.4,708.0 800.7,707.7 802.7,709.3 807.3,710.0 808.7,721.3 810.7,727.3 817.3,727.7 818.0,736.0 808.0,738.7 807.3,749.3 808.7,757.3 814.0,760.7"/>
<polyline points="758.7,758.7 763.3,757.3 768.7,759.7 790.0,759.7 803.3,761.6 814.0,760.7 822.7,760.7 826.7,765.3 828.0,769.0"/>
<polyline points="803.3,769.0 803.3,764.0 816.7,763.3 824.7,761.6"/>
<polyline points="817.3,728.7 824.7,730.7 833.3,731.3 838.0,734.7 842.0,738.0 846.7,738.7 846.7,733.3 842.0,733.3 840.0,726.7 841.3,718.7 844.7,715.3 851.3,714.0"/>
<polyline points="814.0,760.7 824.7,761.3 832.7,760.0 838.0,756.0 844.7,751.3 849.3,750.7 850.0,748.0 862.0,744.0 863.3,738.7 865.3,733.3 866.0,725.3 864.7,720.7"/>
<polyline points="852.0,655.0 853.7,661.7 847.0,670.9 846.2,679.3"/>
<polyline points="844.7,682.0 845.3,690.7 845.3,697.3 846.7,704.7 851.3,714.0 858.0,717.3 864.7,720.7"/>
<polyline points="864.7,720.7 868.0,721.3 870.0,726.7 870.7,730.7 871.3,738.7 876.0,744.0 878.0,749.3 875.3,754.7 874.0,758.0 870.0,752.7 870.7,747.3 866.0,744.7 862.0,744.0"/>
<polyline points="870.7,730.7 878.0,730.0 887.3,730.4 894.0,728.0 900.5,726.0"/>
<polyline points="849.3,750.7 856.7,752.7 862.7,756.0 863.3,762.7 863.1,769.0"/>
<polyline points="756.0,686.0 763.3,682.0 767.3,685.3 770.4,680.0"/>
<polyline points="755.3,692.7 760.0,693.3 761.3,697.3 766.0,696.0 770.7,696.7 777.3,690.7 779.3,685.3 782.0,680.0"/>
<polyline points="761.3,697.3 759.8,700.4"/>
<polyline points="890.3,584.1 884.3,588.1 881.0,601.5"/>
<polyline points="881.0,601.5 875.0,612.2 871.0,620.2 868.3,630.9 863.6,632.9 867.0,637.6 873.6,645.6 876.7,649.4"/>
<polyline points="881.0,601.5 886.3,600.2 893.7,601.5 901.7,604.2 907.1,609.5 912.4,612.9"/>
<polyline points="914.8,612.4 908.4,613.5 909.7,618.2 913.7,617.5"/>
<polyline points="876.7,649.4 868.4,651.9"/>
<polyline points="876.7,649.4 885.1,652.7 893.4,656.1 901.8,652.7 915.1,649.4 923.5,648.6 936.9,633.5 925.2,630.2 916.8,626.0 911.8,620.2 913.5,616.8"/>
<polyline points="901.8,652.7 902.6,660.3 902.6,675.3 905.1,682.0"/>
<polyline points="868.4,651.9 872.5,663.6 867.5,671.9 865.0,677.8"/>
<polyline points="852.9,680.1 865.0,677.8 870.7,680.0 883.3,687.3 894.4,696.0"/>
<polyline points="869.2,518.0 872.5,526.8"/>
<polyline points="875.2,509.5 874.2,518.5 872.7,526.8"/>
<polyline points="875.8,503.2 880.0,502.0 879.5,505.0 875.5,508.0"/>
<polyline points="873.0,527.5 878.0,528.5 887.5,522.0 883.5,519.0 884.0,517.0 894.5,514.0 892.0,509.0"/>
<polyline points="876.5,510.0 881.5,512.5 892.0,509.0"/>
<polyline points="878.0,492.5 880.0,490.5 887.0,489.5 894.0,490.5 902.0,488.5 910.0,487.0 916.0,487.5 919.5,487.5"/>
<polyline points="910.0,488.0 905.0,492.0 904.0,501.0 892.0,509.0"/>
<polyline points="894.5,514.0 904.0,517.5 912.0,521.0 916.0,525.5 921.0,528.5 930.0,529.0 933.0,525.0 937.5,524.0"/>
<polyline points="930.0,529.0 935.0,531.0 939.0,530.5"/>
<polyline points="919.5,487.5 923.0,491.0 928.0,495.0 926.0,500.0 925.5,504.0 929.0,508.0 933.0,512.0 936.5,516.0 937.5,520.0 940.0,523.5"/>
<polyline points="920.0,475.5 919.0,480.0 920.0,485.0 919.5,487.5"/>
<polyline points="906.0,462.0 910.0,460.0 916.0,460.0 920.0,461.5 925.0,461.0 930.0,464.0 934.0,467.0 940.0,466.0 944.0,470.0"/>
<polyline points="906.0,467.0 912.0,466.5 916.0,469.0 920.0,468.5 925.0,467.5 930.0,468.5 936.0,468.0 940.0,466.0"/>
<polyline points="916.0,469.0 917.0,473.0 920.0,475.5 924.0,476.5 927.0,479.0 930.0,479.5 930.5,476.5 928.0,473.0 926.0,470.0 925.0,467.5"/>
<polyline points="930.0,479.5 935.0,476.5 939.0,478.0 940.0,481.0 943.0,481.5"/>
<polyline points="953.8,552.0 958.0,561.1 973.8,563.7 978.8,552.0 978.0,547.0"/>
<polyline points="973.8,563.7 977.0,566.7 956.1,579.2 933.5,586.7 928.0,583.0 921.0,585.0 915.0,589.0 911.0,594.0"/>
<polyline points="956.1,579.2 961.9,589.2"/>
<polyline points="978.8,552.0 983.5,553.5"/>
<polyline points="978.3,449.0 978.3,466.9"/>
<polyline points="978.3,449.0 990.9,446.1 1007.0,456.4 1021.9,455.2 1028.1,460.1 1029.3,465.1 1038.6,469.4"/>
<polyline points="972.0,467.2 978.3,466.9 982.3,466.9 989.7,460.8 998.4,463.8 1000.8,466.9 1007.0,468.2 1012.0,474.4 1021.9,479.9 1030.5,483.6 1029.9,486.1"/>
<polyline points="967.8,485.6 972.4,484.3 979.8,482.4 988.5,484.9 997.1,489.2 1002.7,491.7 1003.3,496.6"/>
<polyline points="1003.3,496.6 1009.5,497.3 1014.5,494.2 1019.4,492.3 1023.1,487.4 1029.9,486.1 1034.0,484.6 1039.2,484.3 1045.4,486.7"/>
<polyline points="1003.3,496.6 999.6,504.7 1000.8,511.5 1005.8,518.3 1001.5,524.5 1005.2,527.0 1009.5,532.5 1012.5,538.0 1007.1,544.3 1006.1,548.3"/>
<polyline points="1001.5,524.5 1009.5,526.3 1019.4,526.3 1027.5,523.9 1030.5,518.3 1039.2,515.2 1045.4,511.5 1049.1,505.3 1052.2,502.8 1051.6,499.1 1055.3,495.4 1054.7,491.7 1057.8,489.2"/>
<polyline points="1045.4,486.7 1051.6,482.4 1054.1,485.5 1057.8,489.2 1065.2,487.4 1071.4,488.0"/>
<polyline points="1034.3,476.2 1039.2,475.6 1041.7,473.1 1038.6,469.4"/>
<polyline points="1034.3,476.2 1035.5,480.6 1039.2,484.3"/>
<polyline points="1041.7,473.1 1049.1,475.6 1059.0,476.8 1065.2,475.6 1066.4,479.3 1070.8,483.0 1071.4,488.0"/>
<polyline points="1038.6,469.4 1046.6,463.8 1054.1,460.1 1065.2,458.3 1078.8,459.5 1091.2,458.9 1097.4,462.6 1100.0,462.0"/>
<polyline points="1065.2,475.6 1071.4,471.9 1081.3,469.4 1088.7,465.7 1097.4,462.6"/>
<polyline points="1044.2,473.1 1054.1,469.4 1062.7,469.4 1054.1,473.1 1045.4,474.4"/>
<polyline points="1049.1,464.6 1056.5,466.3 1051.6,467.0"/>
<polyline points="1098.6,462.0 1099.2,453.3 1096.8,449.6 1100.0,448.4 1104.0,447.2 1106.4,446.2 1111.5,439.0"/>
<polyline points="1071.4,488.0 1076.3,490.5 1082.5,496.6 1087.5,499.1 1091.2,505.3 1094.3,509.0 1090.0,510.9 1093.0,517.7 1098.3,523.3 1106.4,521.3 1116.5,527.4 1126.7,533.5 1138.9,535.5"/>
<polyline points="1066.4,500.4 1078.8,499.7 1083.8,496.6"/>
<polyline points="1046.6,536.0 1052.8,532.5 1062.7,527.6 1064.3,526.2"/>
<polyline points="1046.6,536.0 1044.2,541.3 1048.2,544.3 1043.2,551.3 1040.0,555.5"/>
<polyline points="1098.3,523.3 1098.3,529.4 1110.5,535.5 1124.7,539.6 1136.9,541.6 1138.4,540.0"/>
<polyline points="1138.9,535.5 1140.9,533.5 1147.0,535.5 1153.1,531.4 1161.2,530.4 1171.4,527.4 1177.5,531.4 1181.5,535.5 1185.6,531.4 1188.6,535.5 1190.0,535.5"/>
<polyline points="1147.0,535.5 1152.0,537.6 1158.0,536.6 1161.2,530.4"/>
<polyline points="1044.2,541.3 1048.2,544.3 1043.2,551.3 1040.0,555.5"/>
<polyline points="1138.9,535.5 1137.9,545.6 1140.9,555.8 1142.9,563.9"/>
<polyline points="1137.9,545.6 1145.0,546.6 1148.0,550.6"/>
<polyline points="1150.0,555.8 1154.1,557.8 1158.2,555.8 1159.2,565.9"/>
<polyline points="1181.5,535.5 1177.5,543.6 1168.3,551.7 1165.3,557.8 1161.2,559.9 1159.2,565.9"/>
<polyline points="1188.6,535.5 1185.6,541.6 1186.6,549.7 1183.6,553.8 1188.6,557.8 1190.0,558.0"/>
<polyline points="1185.6,574.1 1183.6,582.2 1187.6,590.3"/>
<polyline points="1151.1,439.0 1151.1,446.2 1161.2,449.2 1169.3,452.2 1177.5,459.4 1188.6,461.4 1190.0,461.4"/>
</g>
</g>
<circle cx="673.0" cy="585.6" r="12.3" fill="#fffdf6"/>
<path d="M673.00,585.60 L673.00,574.20 A11.40,11.40 0 0 1 677.82,595.93 Z" fill="#FF6600"/>
<path d="M673.00,585.60 L677.82,595.93 A11.40,11.40 0 0 1 664.14,578.43 Z" fill="#0000FF"/>
<path d="M673.00,585.60 L664.14,578.43 A11.40,11.40 0 0 1 673.00,574.20 Z" fill="#00FF00"/>
<circle cx="710.8" cy="577.5" r="13.1" fill="#fffdf6"/>
<path d="M710.80,577.50 L710.80,565.30 A12.20,12.20 0 1 1 701.06,570.16 Z" fill="#FF6600"/>
<path d="M710.80,577.50 L701.06,570.16 A12.20,12.20 0 0 1 710.80,565.30 Z" fill="#0000FF"/>
<circle cx="699.4" cy="600.9" r="13.3" fill="#fffdf6"/>
<path d="M699.40,600.90 L699.40,588.50 A12.40,12.40 0 1 1 687.07,599.60 Z" fill="#FF6600"/>
<path d="M699.40,600.90 L687.07,599.60 A12.40,12.40 0 0 1 699.40,588.50 Z" fill="#0000FF"/>
<circle cx="679.7" cy="619.6" r="13.2" fill="#fffdf6"/>
<path d="M679.70,619.60 L679.70,607.30 A12.30,12.30 0 0 1 686.58,629.80 Z" fill="#FF6600"/>
<path d="M679.70,619.60 L686.58,629.80 A12.30,12.30 0 1 1 679.70,607.30 Z" fill="#0000FF"/>
<circle cx="730.2" cy="615.5" r="13.3" fill="#fffdf6"/>
<path d="M730.20,615.50 L730.20,603.10 A12.40,12.40 0 1 1 718.87,620.54 Z" fill="#FF6600"/>
<path d="M730.20,615.50 L718.87,620.54 A12.40,12.40 0 0 1 730.20,603.10 Z" fill="#0000FF"/>
<circle cx="793.9" cy="646.9" r="12.8" fill="#fffdf6"/>
<circle cx="793.9" cy="646.9" r="11.9" fill="#0000FF"/>
<circle cx="921.3" cy="591.7" r="12.7" fill="#fffdf6"/>
<circle cx="921.3" cy="591.7" r="11.8" fill="#00FF00"/>
<circle cx="896.1" cy="621.6" r="13.3" fill="#fffdf6"/>
<circle cx="896.1" cy="621.6" r="12.4" fill="#FF6600"/>
<circle cx="887.0" cy="671.1" r="12.8" fill="#fffdf6"/>
<path d="M887.00,671.10 L887.00,659.20 A11.90,11.90 0 1 1 884.53,659.46 Z" fill="#FF6600"/>
<path d="M887.00,671.10 L884.53,659.46 A11.90,11.90 0 0 1 886.58,659.21 Z" fill="#00FF00"/>
<path d="M887.00,671.10 L886.58,659.21 A11.90,11.90 0 0 1 887.00,659.20 Z" fill="#FF6600"/>
<circle cx="1038.8" cy="497.8" r="12.3" fill="#fffdf6"/>
<path d="M1038.80,497.80 L1038.80,486.40 A11.40,11.40 0 1 1 1027.96,494.28 Z" fill="#FF6600"/>
<path d="M1038.80,497.80 L1027.96,494.28 A11.40,11.40 0 0 1 1038.80,486.40 Z" fill="#00FF00"/>
<circle cx="1069.8" cy="516.5" r="12.3" fill="#fffdf6"/>
<circle cx="1069.8" cy="516.5" r="11.4" fill="#FF6600"/>
<circle cx="1156.5" cy="543.5" r="12.5" fill="#fffdf6"/>
<path d="M1156.50,543.50 L1156.50,531.90 A11.60,11.60 0 1 1 1147.75,551.11 Z" fill="#FF6600"/>
<path d="M1156.50,543.50 L1147.75,551.11 A11.60,11.60 0 0 1 1156.50,531.90 Z" fill="#00FF00"/>
<circle cx="1055.6" cy="557.7" r="12.9" fill="#fffdf6"/>
<circle cx="1055.6" cy="557.7" r="12.0" fill="#FF6600"/>
<circle cx="1093.9" cy="557.9" r="12.5" fill="#fffdf6"/>
<circle cx="1093.9" cy="557.9" r="11.6" fill="#FF6600"/>
<circle cx="1076.0" cy="586.0" r="12.6" fill="#fffdf6"/>
<circle cx="1076.0" cy="586.0" r="11.7" fill="#FF6600"/>
<circle cx="1099.7" cy="586.8" r="12.7" fill="#fffdf6"/>
<circle cx="1099.7" cy="586.8" r="11.8" fill="#FF6600"/>
<circle cx="1085.4" cy="615.0" r="12.3" fill="#fffdf6"/>
<path d="M1085.40,615.00 L1085.40,603.60 A11.40,11.40 0 0 1 1096.24,618.52 Z" fill="#FF6600"/>
<path d="M1085.40,615.00 L1096.24,618.52 A11.40,11.40 0 1 1 1085.40,603.60 Z" fill="#00FF00"/>
</svg>
</body></html>
